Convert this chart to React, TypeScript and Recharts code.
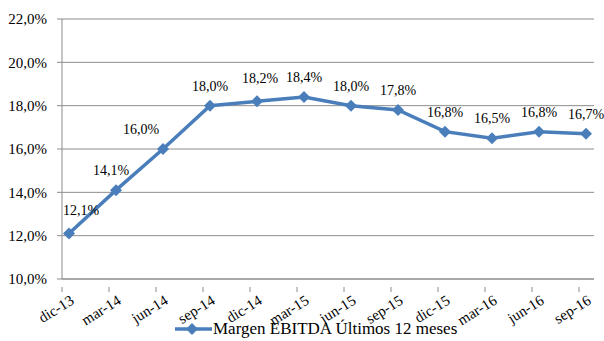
import React from "react";
import { CartesianGrid, LabelList, Legend, Line, LineChart, XAxis, YAxis } from "recharts";

const periods = ["dic-13", "mar-14", "jun-14", "sep-14", "dic-14", "mar-15", "jun-15", "sep-15", "dic-15", "mar-16", "jun-16", "sep-16"];
const margin = [12.1, 14.1, 16.0, 18.0, 18.2, 18.4, 18.0, 17.8, 16.8, 16.5, 16.8, 16.7];
const yTicks = [10, 12, 14, 16, 18, 20, 22];
const seriesName = "Margen EBITDA Últimos 12 meses";

const rows = periods.map((period, i) => ({ period, margin: margin[i] }));

const BLUE = "#4a7ebb";
const GRID = "#8c8c8c";
const FONT = "'Liberation Serif', 'Times New Roman', serif";

const pct = (v: number) => v.toFixed(1).replace(".", ",") + "%";

function Diamond({ cx, cy }: { cx?: number; cy?: number }) {
  if (cx == null || cy == null) return null;
  const r = 6;
  return <polygon points={`${cx},${cy - r} ${cx + r},${cy} ${cx},${cy + r} ${cx - r},${cy}`} fill={BLUE} />;
}

// labels sit at the category point, tick marks sit 7px to the left of it
function PeriodTick({ x, y, payload }: any) {
  const ax = x + 6;
  const ay = y + 16;
  return (
    <g>
      <line x1={x - 7} y1={y} x2={x - 7} y2={y + 5} stroke={GRID} />
      <text x={ax} y={ay} textAnchor="end" transform={`rotate(-32, ${ax}, ${ay})`} fontSize={15} fill="#000">
        {payload.value}
      </text>
    </g>
  );
}

const labelShift: Record<number, [number, number]> = { 0: [12, -4], 1: [-5, 0], 2: [-22, 0], 4: [3, -3] };

function ValueLabel({ x, y, value, index }: any) {
  const [dx, dy] = labelShift[index] ?? [0, 0];
  return (
    <text x={x + dx} y={y - 15 + dy} textAnchor="middle" fontSize={14} fill="#000">
      {pct(value)}
    </text>
  );
}

function LegendBox() {
  return (
    <div style={{ display: "flex", alignItems: "center", marginLeft: 175, fontFamily: FONT, fontSize: 17, color: "#000" }}>
      <svg width={37} height={14}>
        <line x1={0} y1={7} x2={37} y2={7} stroke={BLUE} strokeWidth={3.5} />
        <polygon points="17,1 23,7 17,13 11,7" fill={BLUE} />
      </svg>
      <span style={{ marginLeft: 1 }}>{seriesName}</span>
    </div>
  );
}

export default function App() {
  return (
    <div style={{ position: "absolute", left: 0, top: 0, background: "#fff" }}>
      <LineChart
        width={604}
        height={341}
        data={rows}
        margin={{ top: 19, right: 10, bottom: 0, left: 0 }}
        style={{ fontFamily: FONT }}
      >
        <CartesianGrid horizontal vertical={false} stroke={GRID} />
        <XAxis
          dataKey="period"
          padding={{ left: 7, right: 8 }}
          interval={0}
          height={40}
          tickLine={false}
          tick={<PeriodTick />}
          stroke={GRID}
        />
        <YAxis
          domain={[10, 22]}
          ticks={yTicks}
          tickFormatter={pct}
          width={62}
          tickSize={5}
          tickMargin={10}
          stroke={GRID}
          tick={{ fill: "#000", fontSize: 15 }}
          interval={0}
        />
        <Legend verticalAlign="bottom" height={22} content={<LegendBox />} wrapperStyle={{ left: 0, width: 604 }} />
        <Line
          dataKey="margin"
          name={seriesName}
          stroke={BLUE}
          strokeWidth={3.5}
          dot={<Diamond />}
          activeDot={false}
          isAnimationActive={false}
        >
          <LabelList dataKey="margin" content={<ValueLabel />} />
        </Line>
      </LineChart>
    </div>
  );
}
